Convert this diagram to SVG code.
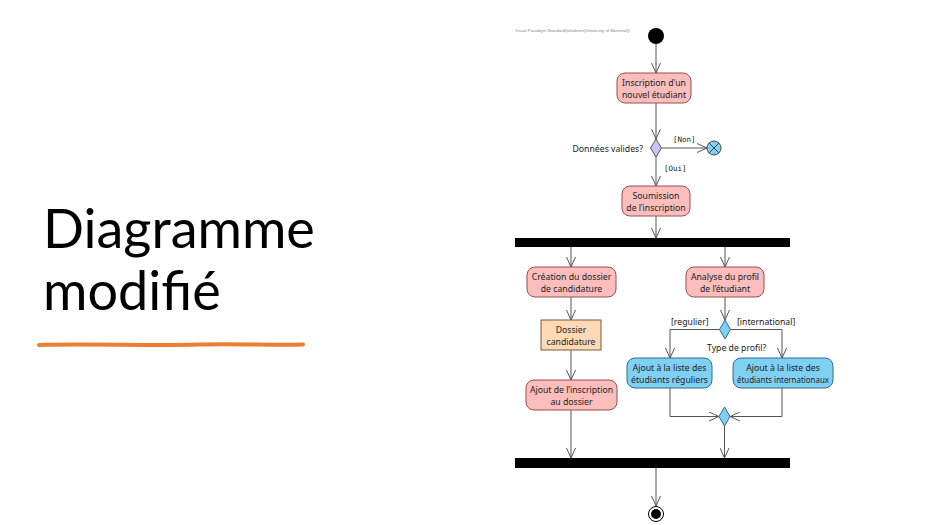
<svg xmlns="http://www.w3.org/2000/svg" width="936" height="525" viewBox="0 0 936 525">
  <defs>
    <marker id="arr" viewBox="0 0 10 10" refX="10" refY="5" markerWidth="10" markerHeight="10" markerUnits="userSpaceOnUse" orient="auto">
      <path d="M0,0.5 L10,5 L0,9.5" fill="none" stroke="#555" stroke-width="1"/>
    </marker>
  </defs>
  <style>
    .title { font-family: Lato, "Liberation Sans", sans-serif; font-size: 54px; fill: #000; }
    .lbl { font-family: "Noto Sans", "Open Sans", sans-serif; font-size: 8.7px; fill: #222; text-anchor: middle; }
    .note { font-family: "Noto Sans", "Open Sans", sans-serif; font-size: 8.7px; fill: #222; }
    .mono { font-family: "DejaVu Sans Mono", "Liberation Mono", monospace; font-size: 7.5px; fill: #222; }
    .act { fill: #FCBDBD; stroke: #9A4E4E; stroke-width: 1; }
    .actb { fill: #7FD0F2; stroke: #2E6C8C; stroke-width: 1; }
    .obj { fill: #FDD9B6; stroke: #7A5A3A; stroke-width: 1; }
    .edge { fill: none; stroke: #555; stroke-width: 1; }
    .bar { fill: #000; }
  </style>

  <rect width="936" height="525" fill="#fff"/>

  <!-- slide title -->
  <text class="title" x="43" y="248">Diagramme</text>
  <text class="title" x="43" y="310">modifié</text>
  <path d="M39,345 C90,343.5 150,346 200,344.5 C240,343.5 275,345.5 303,344.5" fill="none" stroke="#ED7D31" stroke-width="4" stroke-linecap="round"/>

  <text x="515" y="32" font-family="Liberation Sans, sans-serif" font-size="4.3" fill="#888">Visual Paradigm Standard(lafaibrent(University of Montreal))</text>

  <!-- connectors -->
  <g id="edges">
    <line class="edge" x1="656" y1="44" x2="656" y2="73" marker-end="url(#arr)"/>
    <line class="edge" x1="656" y1="103" x2="656" y2="139" marker-end="url(#arr)"/>
    <line class="edge" x1="662" y1="148" x2="707" y2="148" marker-end="url(#arr)"/>
    <line class="edge" x1="656" y1="157" x2="656" y2="186" marker-end="url(#arr)"/>
    <line class="edge" x1="656" y1="216" x2="656" y2="238" marker-end="url(#arr)"/>
    <line class="edge" x1="571" y1="247" x2="571" y2="267" marker-end="url(#arr)"/>
    <line class="edge" x1="725" y1="247" x2="725" y2="267" marker-end="url(#arr)"/>
    <line class="edge" x1="571" y1="297" x2="571" y2="320" marker-end="url(#arr)"/>
    <line class="edge" x1="571" y1="350" x2="571" y2="380" marker-end="url(#arr)"/>
    <line class="edge" x1="571" y1="410" x2="571" y2="458" marker-end="url(#arr)"/>
    <line class="edge" x1="725" y1="297" x2="725" y2="320" marker-end="url(#arr)"/>
    <polyline class="edge" points="719.5,329.5 670,329.5 670,358" marker-end="url(#arr)"/>
    <polyline class="edge" points="730.5,329.5 782,329.5 782,358" marker-end="url(#arr)"/>
    <polyline class="edge" points="670,388 670,416.5 719,416.5" marker-end="url(#arr)"/>
    <polyline class="edge" points="782,388 782,416.5 730,416.5" marker-end="url(#arr)"/>
    <line class="edge" x1="724.5" y1="426" x2="724.5" y2="458" marker-end="url(#arr)"/>
    <line class="edge" x1="656" y1="468" x2="656" y2="506" marker-end="url(#arr)"/>
  </g>

  <g id="start">
    <circle cx="656" cy="36" r="8" fill="#000"/>
  </g>

  <g id="inscription">
    <rect class="act" x="617" y="73" width="74" height="30" rx="8"/>
    <text class="lbl" x="654" y="86">Inscription d'un</text>
    <text class="lbl" x="654" y="98">nouvel étudiant</text>
  </g>

  <g id="valid-decision">
    <polygon points="656,139 661.5,148 656,157 650.5,148" fill="#C8C4F6" stroke="#555" stroke-width="1"/>
    <text class="note" x="643" y="152" text-anchor="end">Données valides?</text>
    <text class="mono" x="673" y="142">[Non]</text>
    <text class="mono" x="664" y="171">[Oui]</text>
  </g>

  <g id="flow-final">
    <circle cx="714" cy="148" r="7" fill="#7FD0F2" stroke="#444" stroke-width="1"/>
    <path d="M709,143 L719,153 M719,143 L709,153" stroke="#444" stroke-width="1"/>
  </g>

  <g id="soumission">
    <rect class="act" x="622" y="186" width="68" height="30" rx="8"/>
    <text class="lbl" x="656" y="199">Soumission</text>
    <text class="lbl" x="656" y="211">de l’inscription</text>
  </g>

  <g id="fork">
    <rect class="bar" x="515" y="238" width="275" height="9"/>
  </g>

  <g id="creation-dossier">
    <rect class="act" x="527" y="267" width="89" height="30" rx="8"/>
    <text class="lbl" x="571.5" y="280">Création du dossier</text>
    <text class="lbl" x="571.5" y="292">de candidature</text>
  </g>

  <g id="dossier">
    <rect class="obj" x="541" y="320" width="60" height="30"/>
    <text class="lbl" x="571" y="333">Dossier</text>
    <text class="lbl" x="571" y="345">candidature</text>
  </g>

  <g id="ajout-dossier">
    <rect class="act" x="526" y="380" width="91" height="30" rx="8"/>
    <text class="lbl" x="571.5" y="393">Ajout de l’inscription</text>
    <text class="lbl" x="571.5" y="405">au dossier</text>
  </g>

  <g id="analyse-profil">
    <rect class="act" x="686" y="267" width="78" height="30" rx="8"/>
    <text class="lbl" x="725" y="280">Analyse du profil</text>
    <text class="lbl" x="725" y="292">de l’étudiant</text>
  </g>

  <g id="profil-decision">
    <polygon points="725,320 730.5,329.5 725,339 719.5,329.5" fill="#7FD0F2" stroke="#2E6C8C" stroke-width="1"/>
    <text class="note" x="671" y="325">[regulier]</text>
    <text class="note" x="737" y="325">[international]</text>
    <text class="note" x="707" y="351">Type de profil?</text>
  </g>

  <g id="liste-reguliers">
    <rect class="actb" x="627" y="358" width="85" height="30" rx="8"/>
    <text class="lbl" x="669.5" y="371">Ajout à la liste des</text>
    <text class="lbl" x="669.5" y="383">étudiants réguliers</text>
  </g>

  <g id="liste-internationaux">
    <rect class="actb" x="733" y="358" width="100" height="30" rx="8"/>
    <text class="lbl" x="783" y="371">Ajout à la liste des</text>
    <text class="lbl" x="783" y="383" textLength="92" lengthAdjust="spacingAndGlyphs">étudiants internationaux</text>
  </g>

  <g id="merge">
    <polygon points="724.5,407 730,416.5 724.5,426 719,416.5" fill="#7FD0F2" stroke="#2E6C8C" stroke-width="1"/>
  </g>

  <g id="join">
    <rect class="bar" x="515" y="458" width="275" height="10"/>
  </g>

  <g id="end">
    <circle cx="656" cy="514" r="7.5" fill="#fff" stroke="#000" stroke-width="1"/>
    <circle cx="656" cy="514" r="5" fill="#000"/>
  </g>
</svg>
